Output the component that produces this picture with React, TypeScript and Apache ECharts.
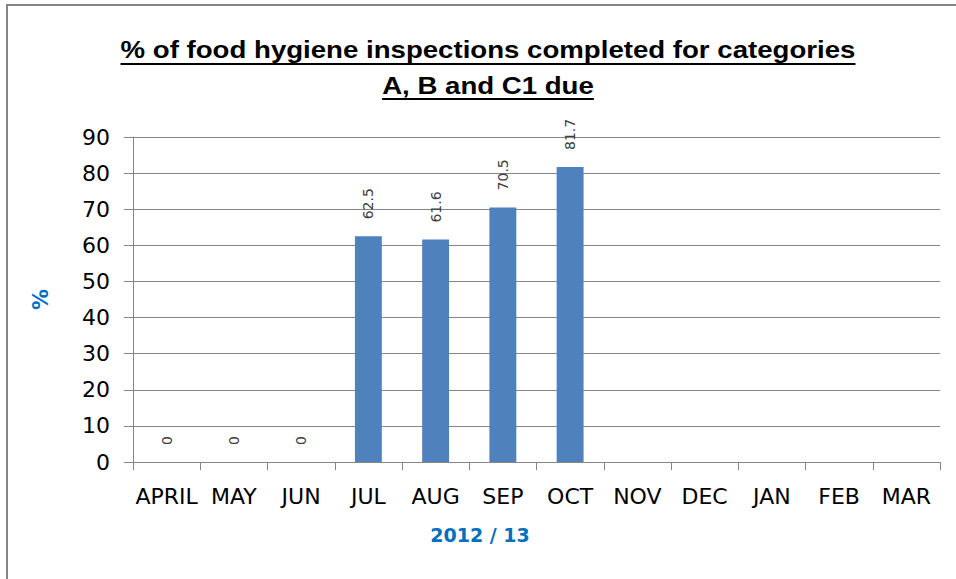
import React, { useEffect, useRef } from "react";
import * as echarts from "echarts";

const categories = ["APRIL", "MAY", "JUN", "JUL", "AUG", "SEP", "OCT", "NOV", "DEC", "JAN", "FEB", "MAR"];
const values: (number | null)[] = [0, 0, 0, 62.5, 61.6, 70.5, 81.7, null, null, null, null, null];
const yMin = 0;
const yMax = 90;
const yInterval = 10;
const titleLines = ["% of food hygiene inspections completed for categories", "A, B and C1 due"];
const xAxisTitle = "2012 / 13";
const yAxisTitle = "%";

const TITLE_FONT = "bold 24px 'Liberation Sans'";
const TITLE_TARGET_WIDTH = 735;

function measure(text: string, font: string): number {
  const c = document.createElement("canvas");
  const ctx = c.getContext("2d");
  if (!ctx) return text.length * 12;
  ctx.font = font;
  return ctx.measureText(text).width;
}

export default function App() {
  const ref = useRef<HTMLDivElement>(null);
  useEffect(() => {
    if (!ref.current) return;
    const chart = echarts.init(ref.current, undefined, { renderer: "svg" });
    const cx = 488;
    const lineY = [50, 86];
    const ulY = [64, 99];
    const sx = TITLE_TARGET_WIDTH / measure(titleLines[0], TITLE_FONT);
    const graphics: any[] = [
      {
        type: "rect",
        z: -10,
        shape: { x: 7, y: 5, width: 1000, height: 700 },
        style: { fill: "none", stroke: "#868686", lineWidth: 2 },
      },
    ];
    titleLines.forEach((t, i) => {
      const w = measure(t, TITLE_FONT) * sx;
      graphics.push({
        type: "text",
        x: cx,
        y: lineY[i],
        scaleX: sx,
        style: { text: t, font: TITLE_FONT, fill: "#000", align: "center", verticalAlign: "middle" },
      });
      graphics.push({
        type: "line",
        shape: { x1: cx - w / 2, y1: ulY[i], x2: cx + w / 2, y2: ulY[i] },
        style: { stroke: "#000", lineWidth: 2 },
      });
    });
    graphics.push({
      type: "text",
      x: 480,
      y: 535,
      style: {
        text: xAxisTitle,
        font: "bold 19px 'DejaVu Sans'",
        fill: "#0070C0",
        align: "center",
        verticalAlign: "middle",
      },
    });

    chart.setOption({
      animation: false,
      backgroundColor: "#fff",
      grid: { left: 133, right: 16, top: 137, bottom: 117, containLabel: false },
      graphic: graphics,
      xAxis: {
        type: "category",
        data: categories,
        boundaryGap: true,
        axisLine: { show: true, lineStyle: { color: "#868686", width: 1 } },
        axisTick: { show: true, alignWithLabel: false, length: 8, lineStyle: { color: "#868686" } },
        axisLabel: { color: "#000", fontFamily: "DejaVu Sans", fontSize: 22, margin: 23, interval: 0 },
      },
      yAxis: {
        type: "value",
        min: yMin,
        max: yMax,
        interval: yInterval,
        name: yAxisTitle,
        nameLocation: "middle",
        nameRotate: 90,
        nameGap: 82,
        nameTextStyle: { color: "#0070C0", fontFamily: "DejaVu Sans", fontWeight: "bold", fontSize: 21 },
        axisLine: { show: true, lineStyle: { color: "#868686", width: 1 } },
        axisTick: { show: true, length: 9, lineStyle: { color: "#868686" } },
        axisLabel: { color: "#000", fontFamily: "DejaVu Sans", fontSize: 22, margin: 23 },
        splitLine: { show: true, lineStyle: { color: "#868686", width: 1 } },
      },
      series: [
        {
          type: "bar",
          data: values,
          barWidth: "40%",
          itemStyle: { color: "#4F81BD" },
          label: {
            show: true,
            position: "top",
            distance: 17,
            rotate: 90,
            align: "left",
            verticalAlign: "middle",
            fontFamily: "DejaVu Sans",
            fontSize: 14,
            color: "#404040",
            formatter: (p: any) => (p.value == null ? "" : String(p.value)),
          },
        },
      ],
    });
    return () => chart.dispose();
  }, []);
  return (
    <div
      ref={ref}
      style={{ position: "fixed", left: 0, top: 0, width: 956, height: 579, background: "#fff" }}
    />
  );
}
